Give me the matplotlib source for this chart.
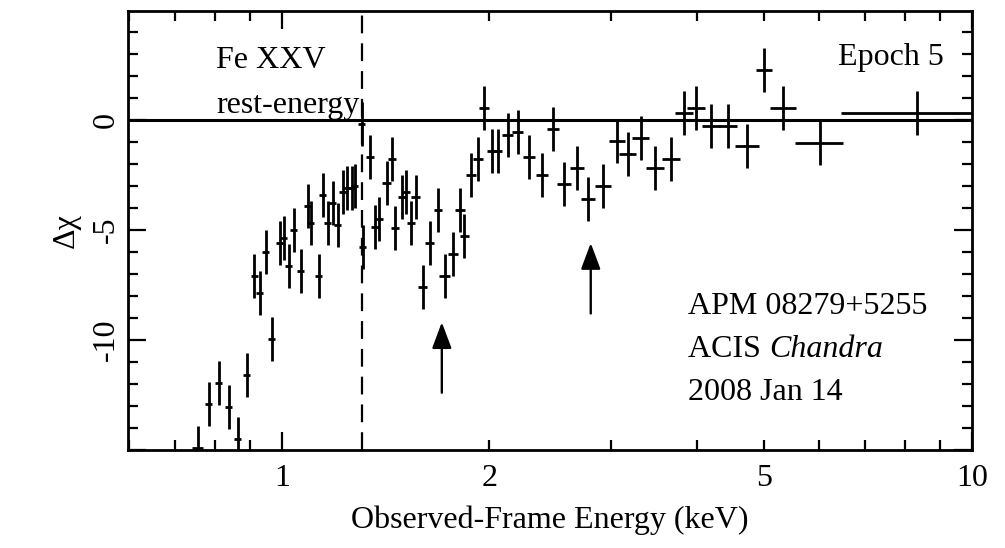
import numpy as np
import matplotlib
matplotlib.use('Agg')
import matplotlib.pyplot as plt
from matplotlib.ticker import FixedLocator, FuncFormatter, MultipleLocator

# residuals (delta chi) of the Epoch 5 spectrum
energy = [0.756, 0.784, 0.810, 0.838, 0.863, 0.890, 0.912, 0.929, 0.948, 0.967,
          0.993, 1.007, 1.024, 1.041, 1.065, 1.091, 1.102, 1.131, 1.147, 1.166,
          1.185, 1.205, 1.226, 1.242, 1.263, 1.276, 1.305, 1.310, 1.341, 1.364,
          1.382, 1.419, 1.443, 1.458, 1.493, 1.513, 1.538, 1.563, 1.600, 1.638,
          1.683, 1.723, 1.769, 1.811, 1.840, 1.880, 1.923, 1.962, 2.015, 2.055,
          2.126, 2.198, 2.280, 2.381, 2.470, 2.563, 2.676, 2.780, 2.919, 3.059,
          3.172, 3.313, 3.472, 3.664, 3.825, 3.980, 4.185, 4.430, 4.720, 4.995,
          5.320, 6.020, 8.320]
dchi = [-14.9, -12.9, -11.95, -13.05, -14.5, -11.6, -7.1, -7.85, -6.0, -9.95,
        -5.6, -5.36, -6.64, -5.0, -6.86, -3.9, -4.68, -7.1, -3.4, -4.68,
        -3.8, -4.77, -3.3, -3.1, -3.1, -3.0, -0.2, -5.8, -1.7, -4.86,
        -4.5, -2.86, -1.8, -4.9, -3.5, -3.3, -4.7, -3.5, -7.6, -5.6,
        -4.1, -7.1, -6.1, -4.1, -5.3, -2.5, -1.8, 0.53, -1.4, -1.4,
        -0.68, -0.55, -1.7, -2.5, -0.4, -2.9, -2.2, -3.6, -3.0, -0.95,
        -1.55, -0.82, -2.2, -1.8, 0.3, 0.55, -0.3, -0.3, -1.2, 2.27,
        0.55, -1.05, 0.3]
# bin half widths in dex (lower / upper side)
dex_lo = [0.008, 0.005, 0.005, 0.005, 0.005, 0.005, 0.005, 0.005, 0.005, 0.005,
          0.005, 0.005, 0.005, 0.005, 0.005, 0.005, 0.005, 0.005, 0.005, 0.005,
          0.005, 0.005, 0.005, 0.005, 0.005, 0.005, 0.005, 0.005, 0.006, 0.006,
          0.006, 0.006, 0.006, 0.006, 0.006, 0.006, 0.006, 0.006, 0.006, 0.006,
          0.006, 0.008, 0.007, 0.007, 0.007, 0.007, 0.007, 0.007, 0.007, 0.007,
          0.008, 0.008, 0.009, 0.009, 0.009, 0.010, 0.010, 0.010, 0.012, 0.012,
          0.012, 0.012, 0.013, 0.013, 0.013, 0.013, 0.013, 0.013, 0.017, 0.012,
          0.019, 0.036, 0.109]
dex_hi = [0.008, 0.005, 0.005, 0.005, 0.005, 0.005, 0.005, 0.005, 0.005, 0.005,
          0.005, 0.005, 0.005, 0.005, 0.005, 0.005, 0.005, 0.005, 0.005, 0.005,
          0.005, 0.005, 0.005, 0.005, 0.005, 0.005, 0.005, 0.005, 0.006, 0.006,
          0.006, 0.006, 0.006, 0.006, 0.006, 0.006, 0.006, 0.006, 0.006, 0.006,
          0.006, 0.008, 0.007, 0.007, 0.007, 0.007, 0.007, 0.007, 0.007, 0.007,
          0.008, 0.008, 0.009, 0.009, 0.009, 0.010, 0.010, 0.010, 0.012, 0.012,
          0.012, 0.012, 0.013, 0.013, 0.013, 0.013, 0.013, 0.013, 0.017, 0.012,
          0.019, 0.033, 0.080]
dchi_err = 1.0

fe_rest = 1.306            # Fe XXV rest energy, observed frame (keV)
arrow_e = [1.706, 2.804]
arrow_tail = [-12.4, -8.8]
arrow_head = [-9.2, -5.6]

xtick_labels = {1: '1', 2: '2', 5: '5', 10: '10'}

plt.rcParams['font.family'] = ['Liberation Serif', 'DejaVu Serif']

fig = plt.figure(figsize=(10.05, 5.48), dpi=100)
ax = fig.add_axes([0.127, 0.179, 0.840, 0.801])

e = np.array(energy)
xlo = e - e * 10 ** (-np.array(dex_lo))
xhi = e * 10 ** np.array(dex_hi) - e
ax.errorbar(e, dchi, yerr=dchi_err, xerr=[xlo, xhi], fmt='none',
            ecolor='black', elinewidth=2.0, capsize=0)

ax.axhline(0, color='black', lw=2.2)
ax.axvline(fe_rest, color='black', lw=1.6, ls=(0, (8, 4.5)))

for xe, yt, yh in zip(arrow_e, arrow_tail, arrow_head):
    ax.annotate('', xy=(xe, yh), xytext=(xe, yt),
                arrowprops=dict(arrowstyle='-|>,head_width=0.3,head_length=0.8',
                                color='black', lw=1.7,
                                mutation_scale=20, shrinkA=0, shrinkB=0))

ax.set_xscale('log')
ax.set_xlim(0.598, 10)
ax.set_ylim(-15, 4.95)

ax.xaxis.set_major_locator(FixedLocator([1, 10]))
ax.xaxis.set_minor_locator(FixedLocator([0.6, 0.7, 0.8, 0.9, 2, 3, 4, 5, 6, 7, 8, 9]))
fmt = FuncFormatter(lambda v, p: xtick_labels.get(int(round(v)), '') if abs(v - round(v)) < 1e-6 else '')
ax.xaxis.set_major_formatter(fmt)
ax.xaxis.set_minor_formatter(fmt)
ax.yaxis.set_major_locator(MultipleLocator(5))
ax.yaxis.set_minor_locator(MultipleLocator(1))
ax.yaxis.set_major_formatter(FuncFormatter(lambda v, p: '%d' % v if v > -15 and v < 4 else ''))

ax.tick_params(which='both', direction='in', top=True, right=True, width=1.6,
               labelsize=23, colors='black')
ax.tick_params(which='major', length=13)
ax.tick_params(which='minor', length=7)
ax.tick_params(axis='x', which='both', pad=10)
ax.tick_params(axis='y', which='both', pad=5, labelrotation=90)
for lab in ax.get_yticklabels():
    lab.set_va('center')

for sp in ax.spines.values():
    sp.set_linewidth(2.0)

ax.set_xlabel('Observed-Frame Energy (keV)', fontsize=23, labelpad=9)
ax.set_ylabel('Δχ', fontsize=23, labelpad=8)

ax.text(0.105, 0.87, 'Fe XXV', transform=ax.transAxes, fontsize=23)
ax.text(0.105, 0.767, 'rest-energy', transform=ax.transAxes, fontsize=23)
ax.text(0.967, 0.878, 'Epoch 5', transform=ax.transAxes, fontsize=23, ha='right')
ax.text(0.664, 0.31, 'APM 08279+5255', transform=ax.transAxes, fontsize=23)
t = ax.text(0.664, 0.212, 'ACIS ', transform=ax.transAxes, fontsize=23)
ax.annotate('Chandra', xy=(1, 0), xycoords=t, fontsize=23, style='italic', va='bottom')
ax.text(0.664, 0.114, '2008 Jan 14', transform=ax.transAxes, fontsize=23)

fig.savefig('out.png', dpi=100)
